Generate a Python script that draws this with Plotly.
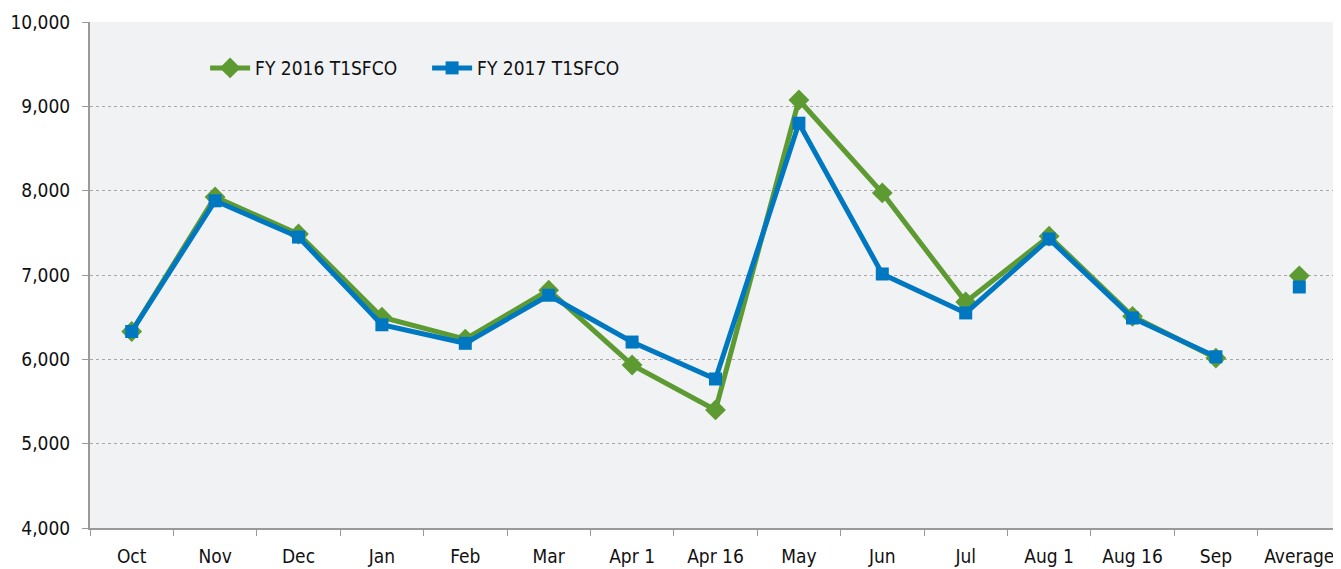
import plotly.graph_objects as go

categories = ["Oct", "Nov", "Dec", "Jan", "Feb", "Mar", "Apr 1", "Apr 16",
              "May", "Jun", "Jul", "Aug 1", "Aug 16", "Sep"]
avg_label = "Average"
fy2016 = [6330, 7925, 7486, 6500, 6240, 6820, 5933, 5400, 9075, 7973, 6680, 7460, 6510, 6015]
fy2017 = [6330, 7880, 7450, 6410, 6190, 6760, 6205, 5767, 8800, 7012, 6550, 7427, 6490, 6030]
fy2016_avg = 6990
fy2017_avg = 6858
y_ticks = [4000, 5000, 6000, 7000, 8000, 9000, 10000]

GREEN = "#5e9a32"
BLUE = "#0078c1"
FONT = "DejaVu Sans Condensed, Liberation Sans Narrow, sans-serif"

all_cats = categories + [avg_label]

fig = go.Figure()
fig.add_trace(go.Scatter(x=categories, y=fy2016, mode="lines+markers", name="FY 2016 T1SFCO",
                         line=dict(color=GREEN, width=5),
                         marker=dict(symbol="diamond", size=16, color=GREEN)))
fig.add_trace(go.Scatter(x=categories, y=fy2017, mode="lines+markers", name="FY 2017 T1SFCO",
                         line=dict(color=BLUE, width=5),
                         marker=dict(symbol="square", size=13, color=BLUE)))
fig.add_trace(go.Scatter(x=[avg_label], y=[fy2016_avg], mode="markers", showlegend=False,
                         marker=dict(symbol="diamond", size=16, color=GREEN)))
fig.add_trace(go.Scatter(x=[avg_label], y=[fy2017_avg], mode="markers", showlegend=False,
                         marker=dict(symbol="square", size=13, color=BLUE)))

# page body has an 8px default margin, so margins are offset accordingly
fig.update_layout(
    width=1341, height=569,
    margin=dict(l=82, r=8, t=14, b=49, autoexpand=False),
    paper_bgcolor="white",
    plot_bgcolor="#f0f2f4",
    font=dict(family=FONT, size=19, color="#111111"),
    showlegend=True,
    legend=dict(orientation="h", x=0.092, y=0.909, xanchor="left", yanchor="middle",
                bgcolor="rgba(0,0,0,0)", font=dict(size=19), itemwidth=40,
                entrywidth=167, entrywidthmode="pixels", tracegroupgap=0),
    xaxis=dict(type="category", categoryorder="array", categoryarray=all_cats,
               range=[-0.5, len(all_cats) - 0.5], automargin=False,
               showgrid=False, showline=True, linecolor="#9a9a9a", linewidth=2,
               ticks="outside", tickson="boundaries", ticklen=6, tickcolor="#9a9a9a",
               tickwidth=1, zeroline=False, ticklabelstandoff=10),
    yaxis=dict(range=[4000, 10000], tickvals=y_ticks, tickformat=",d", automargin=False,
               showgrid=True, gridcolor="#a8a8a8", griddash="dot", gridwidth=1,
               showline=True, linecolor="#9a9a9a", linewidth=2,
               ticks="outside", ticklen=6, tickcolor="#9a9a9a", zeroline=False,
               ticklabelstandoff=8),
)

fig.write_html("out.html")
